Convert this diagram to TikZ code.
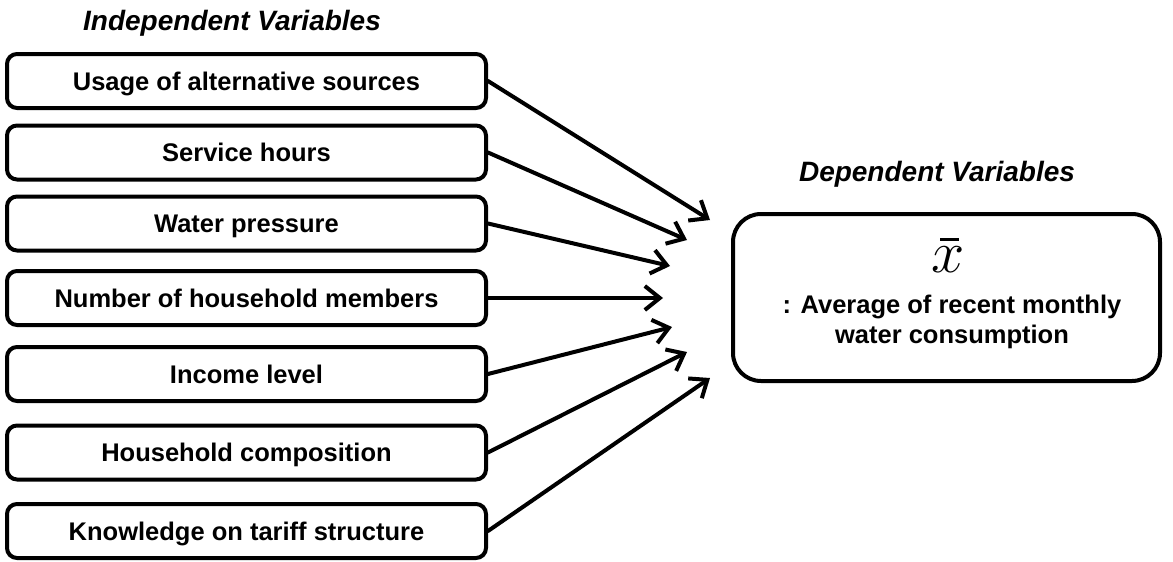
\documentclass[tikz,border=0pt]{standalone}
\usepackage{fontspec}
\setmainfont{Liberation Sans}
\usetikzlibrary{arrows.meta}
\begin{document}
\begin{tikzpicture}[x=1pt,y=-1pt,
  varbox/.style={draw=black, line width=4pt, rounded corners=10pt, fill=white,
    minimum width=479pt, minimum height=54pt, inner sep=0pt,
    text height=18.3pt, text depth=0pt,
    font=\fontsize{25.5}{30}\selectfont\bfseries},
  resultbox/.style={draw=black, line width=4pt, rounded corners=28pt, fill=white,
    minimum width=427pt, minimum height=167pt, inner sep=0pt},
  resulttext/.style={align=center, inner sep=0pt,
    font=\fontsize{25.5}{29.5}\selectfont\bfseries},
  heading/.style={font=\fontsize{28}{32}\selectfont\bfseries\itshape, inner sep=0pt,
    text height=20pt, text depth=0pt},
  link/.style={line width=4pt, line cap=round,
    -{Straight Barb[length=15pt, width=24pt, line width=4pt]}}
]
\useasboundingbox (0,0) rectangle (1173,562);

% headings
\node[heading] (indep) at (232,20) {Independent Variables};
\node[heading] (dep) at (937,171) {Dependent Variables};

% independent variables
\node[varbox] (b1) at (246.5,81)   {Usage of alternative sources};
\node[varbox] (b2) at (246.5,152.5) {Service hours};
\node[varbox] (b3) at (246.5,223.5) {Water pressure};
\node[varbox] (b4) at (246.5,298)   {Number of household members};
\node[varbox] (b5) at (246.5,374)   {Income level};
\node[varbox] (b6) at (246.5,452.5) {Household composition};
\node[varbox] (b7) at (246.5,531)   {Knowledge on tariff structure};

% dependent variable: mean symbol and its description
\node[resultbox] (res) at (946.5,297.5) {};
\node[inner sep=0pt, font=\fontsize{25}{30}\selectfont, scale=2.4] (xvar) at (948,260) {$x$};
\draw[line width=2.6pt] ([xshift=-8pt, yshift=7pt]xvar.north) -- ([xshift=11pt, yshift=7pt]xvar.north);
\node[resulttext] (restext) at (952,322)
  {: Average of recent monthly\\water consumption};

% arrow tips
\coordinate (t1) at (710,220);
\coordinate (t2) at (687,240);
\coordinate (t3) at (670,266);
\coordinate (t4) at (663,298);
\coordinate (t5) at (672,327);
\coordinate (t6) at (687,352);
\coordinate (t7) at (710,378);

\foreach \i in {1,...,7} {
  \draw[link] (b\i.east) -- (t\i);
}
\end{tikzpicture}
\end{document}
